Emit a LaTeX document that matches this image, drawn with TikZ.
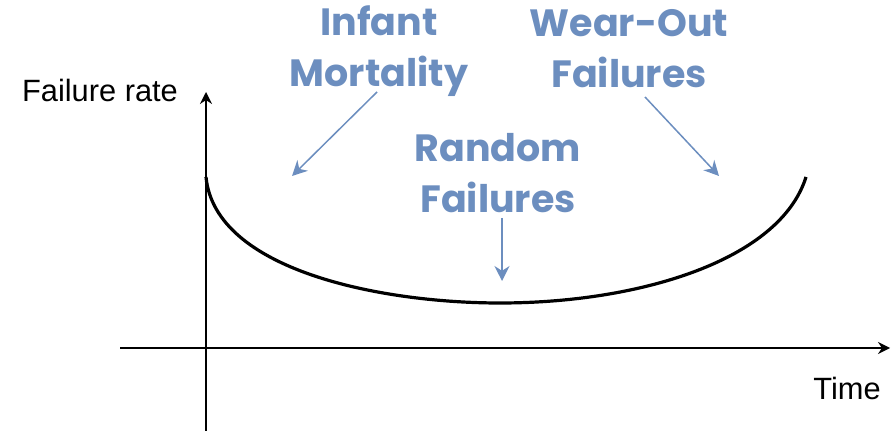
\documentclass[tikz,border=0pt]{standalone}
\usepackage{fontspec}
\setmainfont{Liberation Sans}
\newfontfamily\phasefont{Poppins}
\usepackage{xcolor}
\usetikzlibrary{arrows.meta}
\definecolor{phaseblue}{HTML}{6C8EBF}

\begin{document}
\begin{tikzpicture}[x=0.5pt, y=-0.5pt,
    axis/.style={-{Stealth[length=6pt,width=6pt]}, line width=0.9pt},
    bathtub/.style={line width=1.6pt},
    phase/.style={text=phaseblue, font=\phasefont\bfseries\fontsize{19}{25.5}\selectfont, align=center},
    pointer/.style={-{Stealth[length=7.5pt,width=7.5pt]}, draw=phaseblue, line width=0.75pt},
    axislabel/.style={font=\fontsize{15.4}{18}\selectfont}]

    \useasboundingbox (0,0) rectangle (892,431);

    \coordinate (origin) at (206,348);
    \coordinate (ybottom) at (206,431);
    \coordinate (ytop) at (206,92);
    \coordinate (xleft) at (120,348);
    \coordinate (xright) at (890,348);

    \draw[axis] (ybottom) -- (ytop);
    \draw[axis] (xleft) -- (xright);

    \node[axislabel] (ylabel) at (100,91) {Failure rate};
    \node[axislabel] (xlabel) at (847,388) {Time};

    \draw[bathtub] (206,177) .. controls (215,270) and (380,303) .. (500,303)
        .. controls (640,303) and (780,260) .. (806,177);

    \node[phase] (infant) at (379,51) {Infant\\Mortality};
    \node[phase] (random) at (498,173) {Random\\Failures};
    \node[phase] (wearout) at (629,49) {Wear-Out\\Failures};

    \coordinate (infant-tip) at (292,176);
    \coordinate (random-tip) at (502,281);
    \coordinate (wearout-tip) at (719,176);

    \draw[pointer] (377,92) -- (infant-tip);
    \draw[pointer] (502,218) -- (random-tip);
    \draw[pointer] (645,97) -- (wearout-tip);
\end{tikzpicture}
\end{document}
